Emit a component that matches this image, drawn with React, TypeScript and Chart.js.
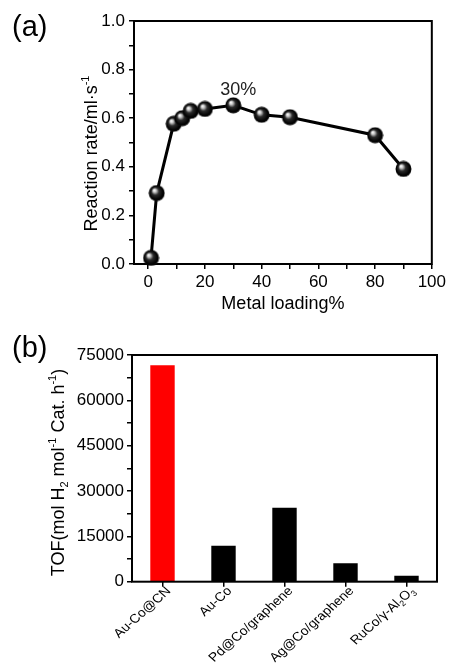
import React, { useEffect, useRef } from 'react';
import { Chart, registerables } from 'chart.js';

Chart.register(...registerables);

// ---------- Data (a) ----------
const metalLoading = [1, 3, 9, 12, 15, 20, 30, 40, 50, 80, 90];
const reactionRate = [0.025, 0.292, 0.577, 0.6, 0.63, 0.638, 0.653, 0.614, 0.604, 0.53, 0.391];
const xTicksA = [0, 10, 20, 30, 40, 50, 60, 70, 80, 90, 100];
const xLabelsA = ['0', '', '20', '', '40', '', '60', '', '80', '', '100'];
const yTicksA = [0, 0.1, 0.2, 0.3, 0.4, 0.5, 0.6, 0.7, 0.8, 0.9, 1.0];
const yLabelsA = ['0.0', '', '0.2', '', '0.4', '', '0.6', '', '0.8', '', '1.0'];
const peakLabel = '30%';
const peakX = 30;

// ---------- Data (b) ----------
const catalysts = ['Au-Co@CN', 'Au-Co', 'Pd@Co/graphene', 'Ag@Co/graphene', 'RuCo/γ-Al₂O₃'];
// rich versions of the category labels (with true subscripts)
const catalystLabelSegs: { t: string; k?: 'sup' | 'sub' }[][] = [
  [{ t: 'Au-Co@CN' }],
  [{ t: 'Au-Co' }],
  [{ t: 'Pd@Co/graphene' }],
  [{ t: 'Ag@Co/graphene' }],
  [{ t: 'RuCo/γ-Al' }, { t: '2', k: 'sub' }, { t: 'O' }, { t: '3', k: 'sub' }],
];
const tofValues = [71600, 11900, 24500, 6100, 2000];
const barColors = ['#ff0000', '#000000', '#000000', '#000000', '#000000'];
const yTicksB = [0, 7500, 15000, 22500, 30000, 37500, 45000, 52500, 60000, 67500, 75000];
const yLabelsB = ['0', '', '15000', '', '30000', '', '45000', '', '60000', '', '75000'];

const FONT = "'Liberation Sans', Arial, sans-serif";

type Seg = { t: string; k?: 'sup' | 'sub' };

function drawRichRotated(
  ctx: CanvasRenderingContext2D,
  segs: Seg[],
  ax: number,
  ay: number,
  angle: number,
  size: number,
  align: 'center' | 'right',
  stretchX = 1
) {
  ctx.save();
  ctx.translate(ax, ay);
  ctx.scale(stretchX, 1);
  ctx.rotate(angle);
  ctx.fillStyle = '#000';
  ctx.textBaseline = 'alphabetic';
  ctx.textAlign = 'left';
  const small = Math.round(size * 0.62);
  let total = 0;
  for (const s of segs) {
    ctx.font = `${s.k ? small : size}px ${FONT}`;
    total += ctx.measureText(s.t).width;
  }
  let x = align === 'center' ? -total / 2 : -total;
  for (const s of segs) {
    ctx.font = `${s.k ? small : size}px ${FONT}`;
    const dy = s.k === 'sup' ? -size * 0.42 : s.k === 'sub' ? size * 0.22 : 0;
    ctx.fillText(s.t, x, dy);
    x += ctx.measureText(s.t).width;
  }
  ctx.restore();
}

function makeSphere(): HTMLCanvasElement {
  const c = document.createElement('canvas');
  c.width = 17;
  c.height = 17;
  const g = c.getContext('2d')!;
  const cx = 8.5, cy = 8.5, r = 8;
  const grad = g.createRadialGradient(cx - 2.6, cy - 3, 0.3, cx, cy, r);
  grad.addColorStop(0, '#ffffff');
  grad.addColorStop(0.18, '#c8c8c8');
  grad.addColorStop(0.45, '#2a2a2a');
  grad.addColorStop(0.85, '#000000');
  grad.addColorStop(1, '#111111');
  g.fillStyle = grad;
  g.beginPath();
  g.arc(cx, cy, r, 0, Math.PI * 2);
  g.fill();
  return c;
}

export default function App() {
  const refA = useRef<HTMLCanvasElement>(null);
  const refB = useRef<HTMLCanvasElement>(null);

  useEffect(() => {
    const sphere = makeSphere();

    const pluginA = {
      id: 'decorA',
      beforeDatasetsDraw(chart: any) {
        const { ctx, chartArea } = chart;
        ctx.save();
        ctx.strokeStyle = '#000';
        ctx.lineWidth = 2;
        ctx.strokeRect(chartArea.left, chartArea.top, chartArea.right - chartArea.left, chartArea.bottom - chartArea.top);
        ctx.restore();
      },
      afterDraw(chart: any) {
        const { ctx } = chart;
        ctx.save();
        ctx.fillStyle = '#000';
        ctx.font = `29px ${FONT}`;
        ctx.textBaseline = 'alphabetic';
        ctx.textAlign = 'left';
        ctx.fillText('(a)', 12, 36);
        const idx = metalLoading.indexOf(peakX);
        const px = chart.scales.x.getPixelForValue(peakX);
        const py = chart.scales.y.getPixelForValue(reactionRate[idx]);
        ctx.font = `18px ${FONT}`;
        ctx.textAlign = 'center';
        ctx.fillStyle = '#222';
        ctx.fillText(peakLabel, px + 5, py - 10);
        ctx.restore();
        drawRichRotated(ctx, [{ t: 'Reaction rate/ml·s' }, { t: '-1', k: 'sup' }], 96.5, 153.5, -Math.PI / 2, 18, 'center');
      },
    };

    const chartA = new Chart(refA.current!, {
      type: 'line',
      data: {
        datasets: [
          {
            data: metalLoading.map((x, i) => ({ x, y: reactionRate[i] })),
            borderColor: '#000',
            borderWidth: 3,
            pointStyle: sphere as any,
            pointRadius: 8,
            pointHoverRadius: 8,
            clip: false as any,
            tension: 0,
          },
        ],
      },
      options: {
        responsive: false,
        animation: false,
        events: [],
        layout: { padding: { left: 0, top: 21, right: 15, bottom: 5 } },
        plugins: { legend: { display: false }, tooltip: { enabled: false } },
        scales: {
          x: {
            type: 'linear',
            min: -5,
            max: 100,
            afterBuildTicks: (s: any) => {
              s.ticks = xTicksA.map((v) => ({ value: v }));
            },
            afterFit: (s: any) => {
              s.height = 51;
            },
            ticks: {
              autoSkip: false,
              maxRotation: 0,
              color: '#000',
              font: { family: FONT, size: 17 },
              padding: 3,
              callback: (_v: any, i: number) => xLabelsA[i],
            },
            grid: { display: true, drawOnChartArea: false, drawTicks: true, tickLength: 5, color: '#000', lineWidth: 1.5 },
            border: { display: false },
            title: { display: true, text: 'Metal loading%', color: '#000', font: { family: FONT, size: 18 }, padding: 0 },
          },
          y: {
            type: 'linear',
            min: 0,
            max: 1,
            afterBuildTicks: (s: any) => {
              s.ticks = yTicksA.map((v) => ({ value: v }));
            },
            afterFit: (s: any) => {
              s.width = 134;
            },
            ticks: {
              autoSkip: false,
              color: '#000',
              font: { family: FONT, size: 17 },
              padding: 4,
              callback: (_v: any, i: number) => yLabelsA[i],
            },
            grid: { display: true, drawOnChartArea: false, drawTicks: true, tickLength: 5, color: '#000', lineWidth: 1.5 },
            border: { display: false },
          },
        },
      },
      plugins: [pluginA],
    });

    const pluginB = {
      id: 'decorB',
      afterDatasetsDraw(chart: any) {
        const { ctx, chartArea } = chart;
        ctx.save();
        ctx.strokeStyle = '#000';
        ctx.lineWidth = 2;
        ctx.strokeRect(chartArea.left, chartArea.top, chartArea.right - chartArea.left, chartArea.bottom - chartArea.top);
        ctx.restore();
      },
      afterDraw(chart: any) {
        const { ctx, chartArea } = chart;
        ctx.save();
        ctx.fillStyle = '#000';
        ctx.font = `29px ${FONT}`;
        ctx.textBaseline = 'alphabetic';
        ctx.textAlign = 'left';
        ctx.fillText('(b)', 12, 37);
        ctx.restore();
        drawRichRotated(
          ctx,
          [
            { t: 'TOF(mol H' },
            { t: '2', k: 'sub' },
            { t: ' mol' },
            { t: '-1', k: 'sup' },
            { t: ' Cat. h' },
            { t: '-1', k: 'sup' },
            { t: ')' },
          ],
          64,
          152.5,
          -Math.PI / 2,
          18,
          'center'
        );
        // rotated category labels, anchored by their right end at each tick
        const xs = chart.scales.x;
        catalysts.forEach((_c, i) => {
          const tx = xs.getPixelForTick(i);
          drawRichRotated(ctx, catalystLabelSegs[i], tx + 9, chartArea.bottom + 10, -Math.PI / 4, 12.5, 'right', 1.12);
        });
      },
    };

    const chartB = new Chart(refB.current!, {
      type: 'bar',
      data: {
        labels: catalysts,
        datasets: [
          {
            data: tofValues,
            backgroundColor: barColors,
            borderWidth: 0,
            barPercentage: 0.4,
            categoryPercentage: 1.0,
          },
        ],
      },
      options: {
        responsive: false,
        animation: false,
        events: [],
        layout: { padding: { left: 0, top: 35, right: 12, bottom: 0 } },
        plugins: { legend: { display: false }, tooltip: { enabled: false } },
        scales: {
          x: {
            type: 'category',
            offset: true,
            afterFit: (s: any) => {
              s.height = 85.3;
            },
            ticks: {
              autoSkip: false,
              maxRotation: 0,
              color: 'rgba(0,0,0,0)',
              font: { family: FONT, size: 13 },
              padding: 0,
              callback: () => '',
            },
            grid: { display: true, offset: false, drawOnChartArea: false, drawTicks: true, tickLength: 5, color: '#000', lineWidth: 1.5 },
            border: { display: false },
          },
          y: {
            type: 'linear',
            min: 0,
            max: 75000,
            afterBuildTicks: (s: any) => {
              s.ticks = yTicksB.map((v) => ({ value: v }));
            },
            afterFit: (s: any) => {
              s.width = 132;
            },
            ticks: {
              autoSkip: false,
              color: '#000',
              font: { family: FONT, size: 17 },
              padding: 3,
              callback: (_v: any, i: number) => yLabelsB[i],
            },
            grid: { display: true, drawOnChartArea: false, drawTicks: true, tickLength: 5, color: '#000', lineWidth: 1.5 },
            border: { display: false },
          },
        },
      },
      plugins: [pluginB],
    });

    return () => {
      chartA.destroy();
      chartB.destroy();
    };
  }, []);

  return (
    <div style={{ position: 'absolute', left: 0, top: 0, width: 449, height: 667, background: '#fff' }}>
      <canvas ref={refA} width={449} height={320} style={{ position: 'absolute', left: 0, top: 0 }} />
      <canvas ref={refB} width={449} height={347} style={{ position: 'absolute', left: 0, top: 320 }} />
    </div>
  );
}
